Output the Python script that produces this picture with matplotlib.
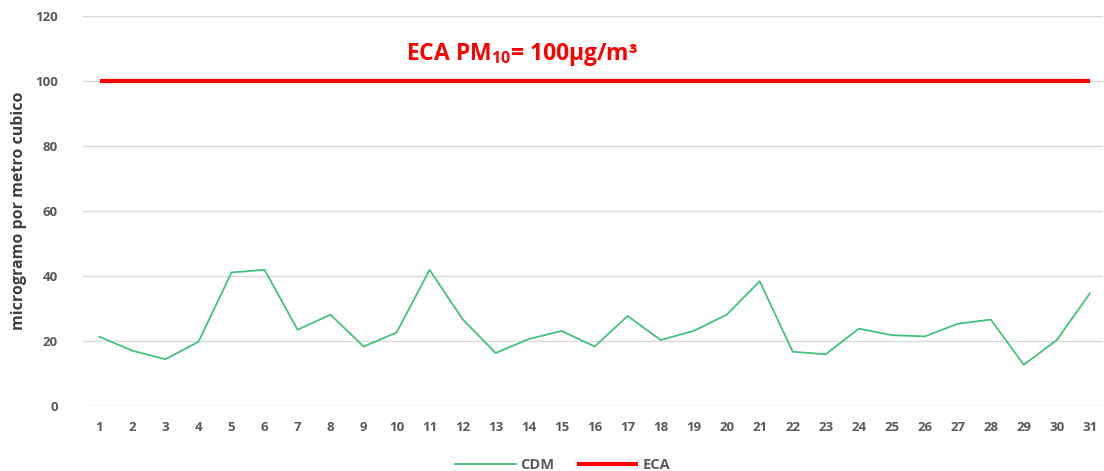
import numpy as np
import matplotlib.pyplot as plt

plt.rcParams['font.family'] = ['Open Sans', 'DejaVu Sans']
plt.rcParams['mathtext.fontset'] = 'custom'
plt.rcParams['mathtext.rm'] = 'Open Sans:bold'
plt.rcParams['mathtext.default'] = 'rm'

# días del mes
dias = list(range(1, 32))
# concentración PM10 (µg/m³)
cdm = [21.3, 17.0, 14.4, 19.8, 41.1, 41.9, 23.5, 28.1, 18.3, 22.6,
       41.9, 26.7, 16.3, 20.6, 23.1, 18.3, 27.7, 20.3, 23.1, 28.1,
       38.4, 16.7, 15.9, 23.8, 21.8, 21.4, 25.3, 26.6, 12.7, 20.3, 34.6]
eca = [100] * 31

fig = plt.figure(figsize=(11.04, 4.71), dpi=100)
ax = fig.add_axes([83 / 1104, 1 - 406 / 471, 1020 / 1104, 390 / 471])

ax.plot(dias, cdm, color='#45c27a', lw=1.3, label='CDM')
ax.plot(dias, eca, color='#ff0000', lw=3, label='ECA', solid_capstyle='butt')

ax.set_xlim(0.5, 31.4)
ax.set_ylim(0, 120)
ax.set_yticks(range(0, 121, 20))
ax.set_xticks(dias)
ax.grid(axis='y', color='#d9d9d9', lw=1)
ax.set_axisbelow(True)
for s in ax.spines.values():
    s.set_visible(False)
ax.tick_params(length=0, labelsize=9.5, labelcolor='#595959', pad=11)
ax.tick_params(axis='y', pad=18)
for lbl in ax.get_xticklabels() + ax.get_yticklabels():
    lbl.set_fontweight('bold')

ax.set_ylabel('microgramo por metro cubico', fontsize=11.5, fontweight='bold',
              color='#404040', labelpad=6)

ax.text(13.8, 108, 'ECA PM$_{10}$= 100µg/m³', color='#ff0000', fontsize=16.5,
        fontweight='bold', ha='center', va='center')

ax.legend(loc='upper center', bbox_to_anchor=(0.47, -0.1), ncol=2, frameon=False,
          prop={'size': 10.5, 'weight': 'bold'}, labelcolor='#595959',
          handlelength=4.2, columnspacing=1.5, handletextpad=0.3)

plt.savefig('out.png', dpi=100)
